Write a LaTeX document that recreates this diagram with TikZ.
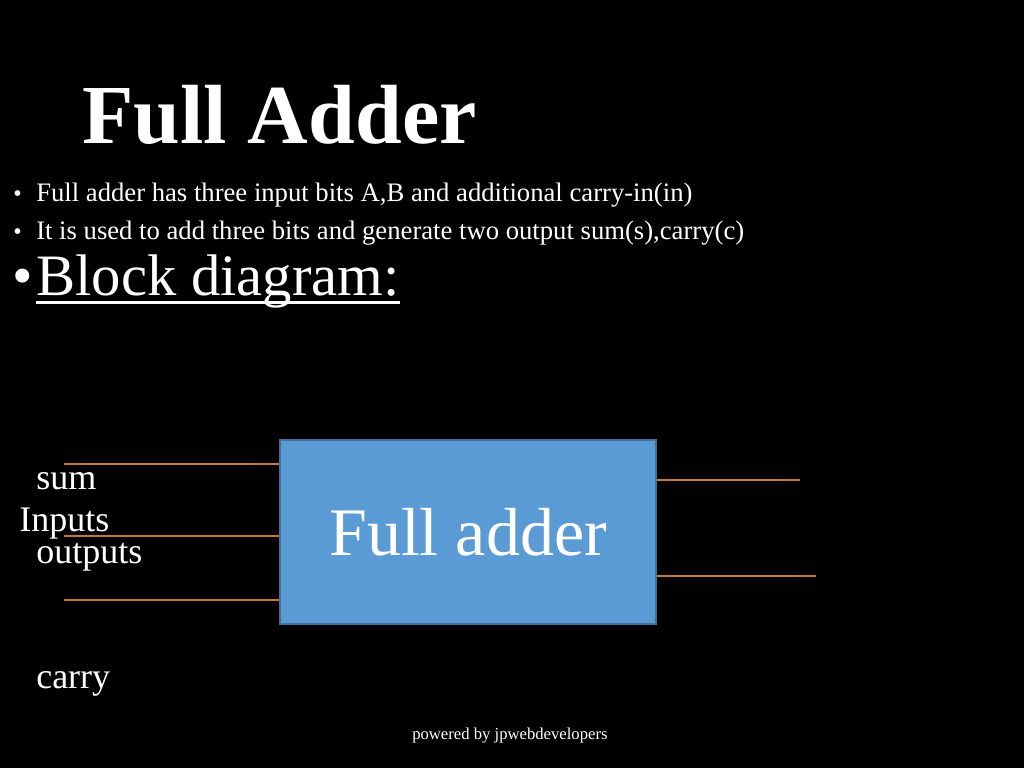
\documentclass[tikz,border=0pt]{standalone}
\usepackage{fontspec}
\setmainfont{Liberation Serif}
\usetikzlibrary{positioning}
\definecolor{boxblue}{HTML}{5B9BD5}
\definecolor{boxedge}{HTML}{41719C}
\definecolor{wireorange}{HTML}{CC7636}
\tikzset{
  txt/.style={text=white, anchor=base west, inner sep=0pt},
  wire/.style={draw=wireorange, line width=1.5pt},
  adder/.style={draw=boxedge, fill=boxblue, line width=1pt, minimum width=282pt,
                minimum height=138pt, inner sep=0pt, text=white,
                font=\fontsize{51}{51}\selectfont}
}
\begin{document}
\begin{tikzpicture}[x=0.75pt,y=-0.75pt]
  \fill[black] (0,0) rectangle (1024,768);
  \useasboundingbox (0,0) rectangle (1024,768);

  \node[txt, font=\fontsize{63}{63}\selectfont\bfseries] (title) at (82,143) {Full Adder};
  \node[txt, font=\fontsize{18}{18}\selectfont] (b1) at (13,201) {•};
  \node[txt, font=\fontsize{20}{20}\selectfont] (l1) at (36,201) {Full adder has three input bits A,B and additional carry-in(in)};
  \node[txt, font=\fontsize{18}{18}\selectfont] (b2) at (13,239) {•};
  \node[txt, font=\fontsize{20}{20}\selectfont] (l2) at (36,239) {It is used to add three bits and generate two output sum(s),carry(c)};
  \node[txt, font=\fontsize{44}{44}\selectfont] (b3) at (12,295) {•};
  \node[txt, font=\fontsize{44}{44}\selectfont] (blk) at (36,295) {Block diagram:};
  \draw[white, line width=2pt] ([yshift=-5.5pt]blk.base west) -- ([yshift=-5.5pt]blk.base east);

  \node[adder] (fa) at (468,532) {Full adder};

  \coordinate (a) at (64,464);
  \coordinate (b) at (64,536);
  \coordinate (cin) at (64,600);
  \coordinate (s) at (800,480);
  \coordinate (c) at (816,576);
  \draw[wire] (a) -- (a -| fa.west);
  \draw[wire] (b) -- (b -| fa.west);
  \draw[wire] (cin) -- (cin -| fa.west);
  \draw[wire] (s -| fa.east) -- (s);
  \draw[wire] (c -| fa.east) -- (c);

  \node[txt, font=\fontsize{27}{27}\selectfont] (sum) at (36,489) {sum};
  \node[txt, font=\fontsize{27}{27}\selectfont] (inp) at (19,531) {Inputs};
  \node[txt, font=\fontsize{27}{27}\selectfont] (outp) at (36,563) {outputs};
  \node[txt, font=\fontsize{27}{27}\selectfont] (carry) at (36,688) {carry};

  \node[txt, font=\fontsize{12.5}{12.5}\selectfont] (foot) at (412,739) {powered by jpwebdevelopers};
\end{tikzpicture}
\end{document}
